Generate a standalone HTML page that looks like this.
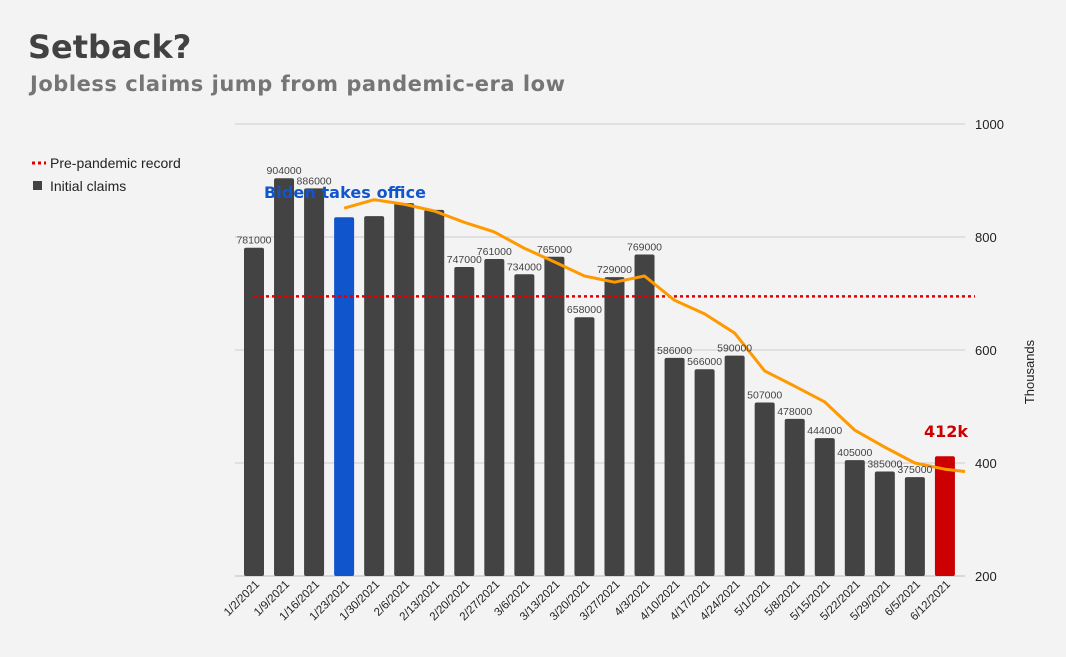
<!DOCTYPE html>
<html><head><meta charset="utf-8"><style>
body{margin:0;background:#f3f3f3;font-family:"Liberation Sans",sans-serif}
</style></head><body>
<svg id="c" width="1066" height="657" style="position:absolute;left:0;top:0">
<text x="28" y="58" font-size="32" font-weight="bold" fill="#424242" font-family="DejaVu Sans, sans-serif">Setback?</text>
<text x="30" y="91" font-size="21" font-weight="bold" fill="#757575" font-family="DejaVu Sans, sans-serif" textLength="535">Jobless claims jump from pandemic-era low</text>
<g>
<line x1="32" y1="163" x2="46" y2="163" stroke="#e00000" stroke-width="3" stroke-dasharray="3,3"/>
<text x="50" y="168" font-size="14" fill="#222">Pre-pandemic record</text>
<rect x="33" y="181" width="9" height="9" fill="#424242"/>
<text x="50" y="191" font-size="14" fill="#222">Initial claims</text>
</g>
<text transform="translate(1034,372) rotate(-90)" text-anchor="middle" font-size="13" fill="#222">Thousands</text>
<g id="grid"></g><g id="bars"></g><g id="lines"></g><g id="labels"></g>
</svg>
<script>
const categories=["1/2/2021","1/9/2021","1/16/2021","1/23/2021","1/30/2021","2/6/2021","2/13/2021","2/20/2021","2/27/2021","3/6/2021","3/13/2021","3/20/2021","3/27/2021","4/3/2021","4/10/2021","4/17/2021","4/24/2021","5/1/2021","5/8/2021","5/15/2021","5/22/2021","5/29/2021","6/5/2021","6/12/2021"];
const claims=[781000,904000,886000,835000,837000,860000,848000,747000,761000,734000,765000,658000,729000,769000,586000,566000,590000,507000,478000,444000,405000,385000,375000,412000];
const showLabel=[1,1,1,0,0,0,0,1,1,1,1,1,1,1,1,1,1,1,1,1,1,1,1,0];
const movingAvg=[null,null,null,851,866,858,846,826,809,780,756,731,720,731,688,664,630,563,536,508,458,428,400,389];
const record=[695];
const yTicks=[200,400,600,800,1000];
const NS="http://www.w3.org/2000/svg";
const X0=239,STEP=30.04,BW=20;
const x=i=>X0+15+i*STEP;
const y=v=>576-(v-200)*113/200;
function mk(t,a,p){const e=document.createElementNS(NS,t);for(const k in a)e.setAttribute(k,a[k]);document.getElementById(p).appendChild(e);return e;}
yTicks.forEach(t=>{
 const l=mk("line",{x1:235,x2:965,y1:y(t),y2:y(t),stroke:t==200?"#bbb":"#ccc","stroke-width":1},"grid");
 
 
 const tx=mk("text",{x:975,y:y(t)+5,"font-size":13,fill:"#222"},"grid");tx.textContent=t;
 
 
});
claims.forEach((v,i)=>{
 const fill=i==3?"#1155cc":(i==23?"#cc0000":"#434343");
 const r=mk("rect",{x:x(i)-BW/2,y:y(v/1000),width:BW,height:576-y(v/1000),fill:fill,rx:2},"bars");
 
 
 if(showLabel[i]){const t=mk("text",{x:x(i),y:y(v/1000)-4,"text-anchor":"middle","font-size":10.5,fill:"#444"},"labels");t.textContent=v;
 
 }
 const c=mk("text",{transform:`translate(${x(i)+6},${585}) rotate(-45)`,"text-anchor":"end","font-size":11.5,fill:"#222"},"labels");c.textContent=categories[i];
 
 
});
const rl=mk("line",{x1:x(0),x2:975,y1:y(record[0]),y2:y(record[0]),stroke:"#e00000","stroke-width":2.5,"stroke-dasharray":"3,3"},"lines");


let pts=[];movingAvg.forEach((v,i)=>{if(v!==null)pts.push(x(i)+","+y(v));});
pts.push("965,"+y(movingAvg[23]-4));
const pl=mk("polyline",{points:pts.join(" "),fill:"none",stroke:"#ff9900","stroke-width":3,"stroke-linejoin":"round"},"lines");


const a=mk("text",{x:264,y:198,"font-size":16,"font-weight":"bold",fill:"#1155cc","font-family":"DejaVu Sans, sans-serif",textLength:162},"labels");a.textContent="Biden takes office";


const b=mk("text",{x:946,y:437,"text-anchor":"middle","font-size":16,"font-weight":"bold",fill:"#cc0000","font-family":"DejaVu Sans, sans-serif"},"labels");b.textContent="412k";


</script>
</body></html>
